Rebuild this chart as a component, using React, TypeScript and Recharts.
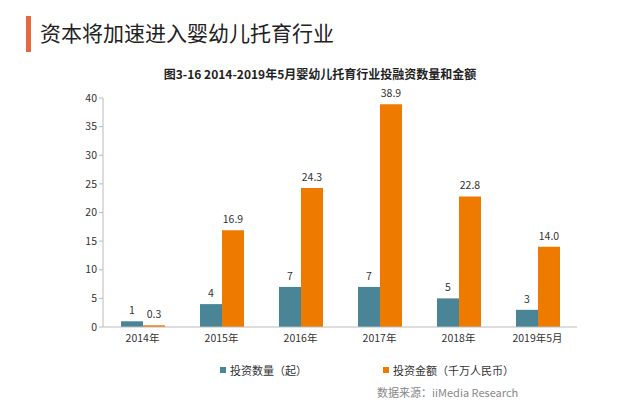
import { BarChart, Bar, XAxis, YAxis, LabelList } from 'recharts'

const years = ['2014年', '2015年', '2016年', '2017年', '2018年', '2019年5月']
const dealCount = [1, 4, 7, 7, 5, 3]
const dealAmount = [0.3, 16.9, 24.3, 38.9, 22.8, 14.0]
const yTicks = [0, 5, 10, 15, 20, 25, 30, 35, 40]

const BLUE = '#4a8597'
const ORANGE = '#ef7a00'
const FONT = '"Noto Sans CJK SC", "Noto Sans", sans-serif'

const data = years.map((year, i) => ({ year, count: dealCount[i], amount: dealAmount[i] }))

export default function App() {
  return (
    <div style={{ position: 'absolute', left: 0, top: 0, width: 640, height: 416, background: '#fff', fontFamily: FONT, overflow: 'hidden' }}>
      <div style={{ position: 'absolute', left: 26, top: 16, width: 5, height: 36, background: '#e8673f' }} />
      <div style={{ position: 'absolute', left: 40, top: 17, fontSize: 21, color: '#222', lineHeight: '30px' }}>
        资本将加速进入婴幼儿托育行业
      </div>
      <div style={{ position: 'absolute', left: 0, width: 640, top: 65, textAlign: 'center', fontSize: 12, lineHeight: '17px', fontWeight: 'bold', color: '#222' }}>
        图3-16 2014-2019年5月婴幼儿托育行业投融资数量和金额
      </div>
      <div style={{ position: 'absolute', left: 0, top: 0 }}>
        <BarChart width={640} height={416} data={data} margin={{ top: 98, right: 63, bottom: 59, left: 63 }} barGap={0} barSize={22}>
          <XAxis dataKey="year" height={30} stroke="#bbb" tickLine={false} tick={{ fill: '#333', fontSize: 10.5, fontFamily: FONT }} />
          <YAxis width={40} domain={[0, 40]} ticks={yTicks} stroke="#bbb" tickSize={4} tick={{ fill: '#333', fontSize: 10.5, fontFamily: FONT }} />
          <Bar dataKey="count" fill={BLUE} isAnimationActive={false}>
            <LabelList dataKey="count" position="top" offset={7} style={{ fill: '#333', fontSize: 10.5, fontFamily: FONT }} />
          </Bar>
          <Bar dataKey="amount" fill={ORANGE} isAnimationActive={false}>
            <LabelList dataKey="amount" position="top" offset={7} formatter={(v: number) => v.toFixed(1)} style={{ fill: '#333', fontSize: 10.5, fontFamily: FONT }} />
          </Bar>
        </BarChart>
      </div>
      <div style={{ position: 'absolute', left: 220, top: 362, fontSize: 11, color: '#333', display: 'flex', alignItems: 'center' }}>
        <span style={{ display: 'inline-block', width: 6, height: 6, background: BLUE, marginRight: 4 }} />
        投资数量（起）
      </div>
      <div style={{ position: 'absolute', left: 383, top: 362, fontSize: 11, color: '#333', display: 'flex', alignItems: 'center' }}>
        <span style={{ display: 'inline-block', width: 6, height: 6, background: ORANGE, marginRight: 4 }} />
        投资金额（千万人民币）
      </div>
      <div style={{ position: 'absolute', left: 377, top: 384, fontSize: 11, color: '#888' }}>
        数据来源：iiMedia Research
      </div>
    </div>
  )
}
